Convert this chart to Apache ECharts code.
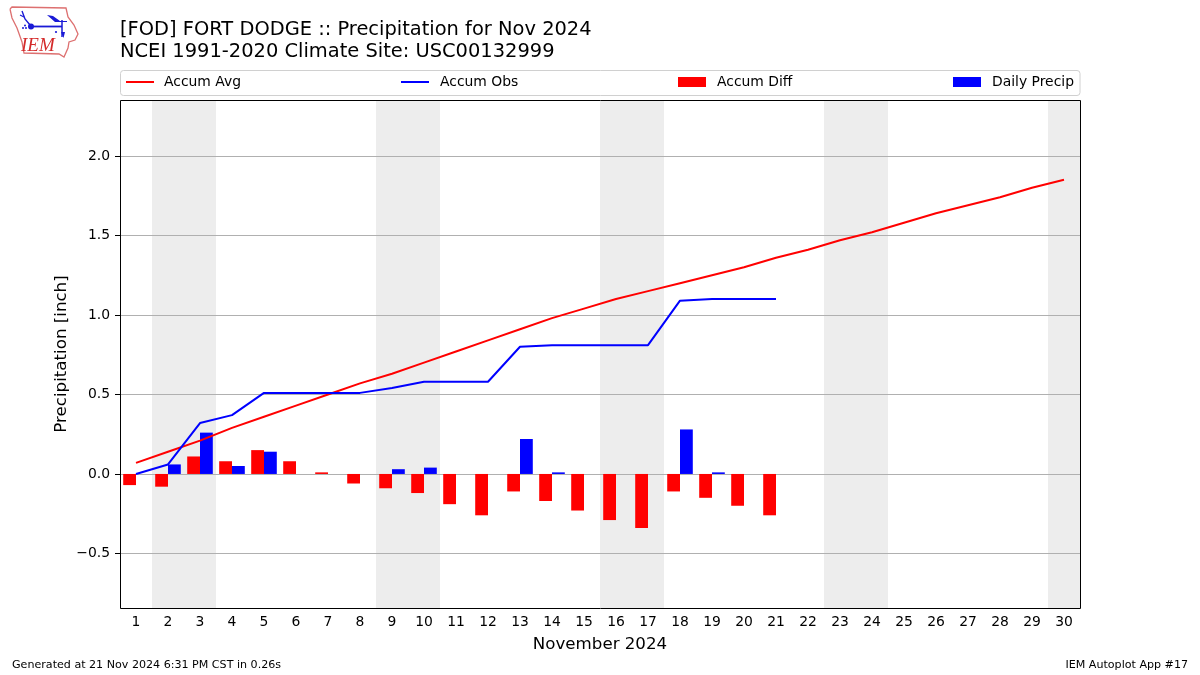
<!DOCTYPE html>
<html><head><meta charset="utf-8">
<style>html,body{margin:0;padding:0;background:#fff}#c{width:1200px;height:675px}</style>
<script src="https://cdn.jsdelivr.net/npm/echarts@6/dist/echarts.min.js"></script>
</head><body><div id="c"></div>
<script>
const days = [1,2,3,4,5,6,7,8,9,10,11,12,13,14,15,16,17,18,19,20,21,22,23,24,25,26,27,28,29,30];
const accumAvg = [0.07,0.14,0.21,0.29,0.36,0.43,0.50,0.57,0.63,0.70,0.77,0.84,0.91,0.98,1.04,1.10,1.15,1.20,1.25,1.30,1.36,1.41,1.47,1.52,1.58,1.64,1.69,1.74,1.80,1.85];
const accumObs = [0.00,0.06,0.32,0.37,0.51,0.51,0.51,0.51,0.54,0.58,0.58,0.58,0.80,0.81,0.81,0.81,0.81,1.09,1.10,1.10,1.10];
const accumDiff = [-0.07,-0.08,0.11,0.08,0.15,0.08,0.01,-0.06,-0.09,-0.12,-0.19,-0.26,-0.11,-0.17,-0.23,-0.29,-0.34,-0.11,-0.15,-0.20,-0.26];
const dailyPrecip = [0,0.06,0.26,0.05,0.14,0,0,0,0.03,0.04,0,0,0.22,0.01,0,0,0,0.28,0.01,0,0];
const yTicks = [-0.5,0,0.5,1,1.5,2];
const weekendSpans = [[1.5,3.5],[8.5,10.5],[15.5,17.5],[22.5,24.5],[29.5,30.5]];
const titleLines = ['[FOD] FORT DODGE :: Precipitation for Nov 2024','NCEI 1991-2020 Climate Site: USC00132999'];
const FONT = 'DejaVu Sans';

const chart = echarts.init(document.getElementById('c'), null, {renderer:'canvas'});
const legendBase = {itemWidth:28, itemGap:0, padding:0, selectedMode:false};
const legendText = pad => ({fontFamily:FONT,fontSize:13.9,color:'#000',padding:[0,0,0,pad]});
chart.setOption({
  animation:false,
  backgroundColor:'#fff',
  grid:{left:120,top:100,width:960,height:508,show:false,containLabel:false},
  xAxis:[{
    type:'category',data:days,boundaryGap:true,
    name:'November 2024',nameLocation:'middle',nameGap:28,nameMoveOverlap:false,
    nameTextStyle:{fontFamily:FONT,fontSize:16.67,color:'#000'},
    axisLine:{show:false,onZero:false},
    axisTick:{alignWithLabel:true,length:5,lineStyle:{color:'#000',width:1}},
    axisLabel:{interval:0,fontFamily:FONT,fontSize:13.9,color:'#000',margin:7},
    splitLine:{show:false}
  },{
    type:'value',min:0.5,max:30.5,show:false,splitLine:{show:false}
  }],
  yAxis:{
    type:'value',min:-0.843,max:2.352,
    name:'Precipitation [inch]',nameLocation:'middle',nameGap:50,nameMoveOverlap:false,
    nameTextStyle:{fontFamily:FONT,fontSize:16.67,color:'#000'},
    axisLine:{show:false,onZero:false},
    axisTick:{show:true,length:5,lineStyle:{color:'#000',width:1},customValues:yTicks},
    axisLabel:{fontFamily:FONT,fontSize:13.9,color:'#000',margin:10,padding:[2,0,0,0],customValues:yTicks,
      formatter:v=>(v<0?'\u2212':'')+Math.abs(v).toFixed(1)},
    splitLine:{show:true,lineStyle:{color:'#b0b0b0',width:1}}
  },
  legend:[
    Object.assign({},legendBase,{top:75,left:126,itemHeight:2,icon:'rect',textStyle:legendText(5),data:['Accum Avg']}),
    Object.assign({},legendBase,{top:75,left:401,itemHeight:2,icon:'rect',textStyle:legendText(6),data:['Accum Obs']}),
    Object.assign({},legendBase,{top:75,left:678,itemHeight:10,icon:'rect',textStyle:legendText(6),data:['Accum Diff']}),
    Object.assign({},legendBase,{top:75,left:953,itemHeight:10,icon:'rect',textStyle:legendText(6),data:['Daily Precip']})
  ],
  series:[
    {name:'Weekends',type:'line',xAxisIndex:1,data:[],silent:true,
      markArea:{z:-1,silent:true,itemStyle:{color:'#ededed'},
        data:weekendSpans.map(s=>[{xAxis:s[0]},{xAxis:s[1]}])}},
    {name:'Accum Diff',type:'bar',data:accumDiff,barWidth:12.8,barGap:0,itemStyle:{color:'#ff0000'},z:2},
    {name:'Daily Precip',type:'bar',data:dailyPrecip,barWidth:12.8,barGap:0,itemStyle:{color:'#0000ff'},z:2},
    {name:'Accum Avg',type:'line',data:accumAvg,showSymbol:false,symbol:'none',lineStyle:{color:'#ff0000',width:2},itemStyle:{color:'#ff0000'},z:3},
    {name:'Accum Obs',type:'line',data:accumObs,showSymbol:false,symbol:'none',lineStyle:{color:'#0000ff',width:2},itemStyle:{color:'#0000ff'},z:3}
  ],
  graphic:[
    {type:'rect',silent:true,z:-1,shape:{x:120.5,y:70.5,width:959.5,height:25,r:3},style:{fill:'#fff',stroke:'#d0d0d0',lineWidth:1}},
    {type:'rect',silent:true,z:50,shape:{x:120.5,y:100.5,width:960,height:508},style:{fill:'none',stroke:'#000',lineWidth:1}},
    {type:'text',left:120,top:20,style:{text:titleLines[0],font:'19.44px "DejaVu Sans"',fill:'#000'}},
    {type:'text',left:120,top:42,style:{text:titleLines[1],font:'19.44px "DejaVu Sans"',fill:'#000'}},
    {type:'text',left:12,top:660,style:{text:'Generated at 21 Nov 2024 6:31 PM CST in 0.26s',font:'11.1px "DejaVu Sans"',fill:'#000'}},
    {type:'text',right:12,top:660,style:{text:'IEM Autoplot App #17',font:'11.1px "DejaVu Sans"',fill:'#000'}},
    // IEM logo
    {type:'polyline',silent:true,shape:{points:[[10,9],[12,7],[66,8],[68,17],[74,25],[78,34],[75,40],[69,42],[68,48],[64,57],[59,54],[24,53],[22,42],[17,28],[12,18],[10,9]]},style:{fill:'none',stroke:'#dd7070',lineWidth:1.3}},
    {type:'text',silent:true,x:21,y:36,style:{text:'IEM',font:'italic 19px "Liberation Serif"',fill:'#d42a2a'}},
    {type:'polyline',silent:true,shape:{points:[[31,26.5],[62,26.5]]},style:{fill:'none',stroke:'#1a1ad6',lineWidth:1.8}},
    {type:'polyline',silent:true,shape:{points:[[62,20],[62,37]]},style:{fill:'none',stroke:'#1a1ad6',lineWidth:1.5}},
    {type:'polyline',silent:true,shape:{points:[[22,11],[25,19],[30,25]]},style:{fill:'none',stroke:'#1a1ad6',lineWidth:1.4}},
    {type:'polyline',silent:true,shape:{points:[[20,15],[24,17]]},style:{fill:'none',stroke:'#1a1ad6',lineWidth:1.2}},
    {type:'polygon',silent:true,shape:{points:[[47,15],[53,16],[60,21],[67,21],[67,22],[55,22]]},style:{fill:'#1a1ad6'}},
    {type:'circle',silent:true,shape:{cx:31,cy:26.5,r:3},style:{fill:'#1a1ad6'}},
    {type:'circle',silent:true,shape:{cx:23,cy:28,r:1},style:{fill:'#1a1ad6'}},
    {type:'circle',silent:true,shape:{cx:25,cy:25.5,r:1},style:{fill:'#1a1ad6'}},
    {type:'circle',silent:true,shape:{cx:26,cy:28,r:1},style:{fill:'#1a1ad6'}},
    {type:'circle',silent:true,shape:{cx:56,cy:32,r:1.1},style:{fill:'#1a1ad6'}},
    {type:'polygon',silent:true,shape:{points:[[61,32],[65,32],[63.5,38]]},style:{fill:'#1a1ad6'}}
  ]
});
</script></body></html>
